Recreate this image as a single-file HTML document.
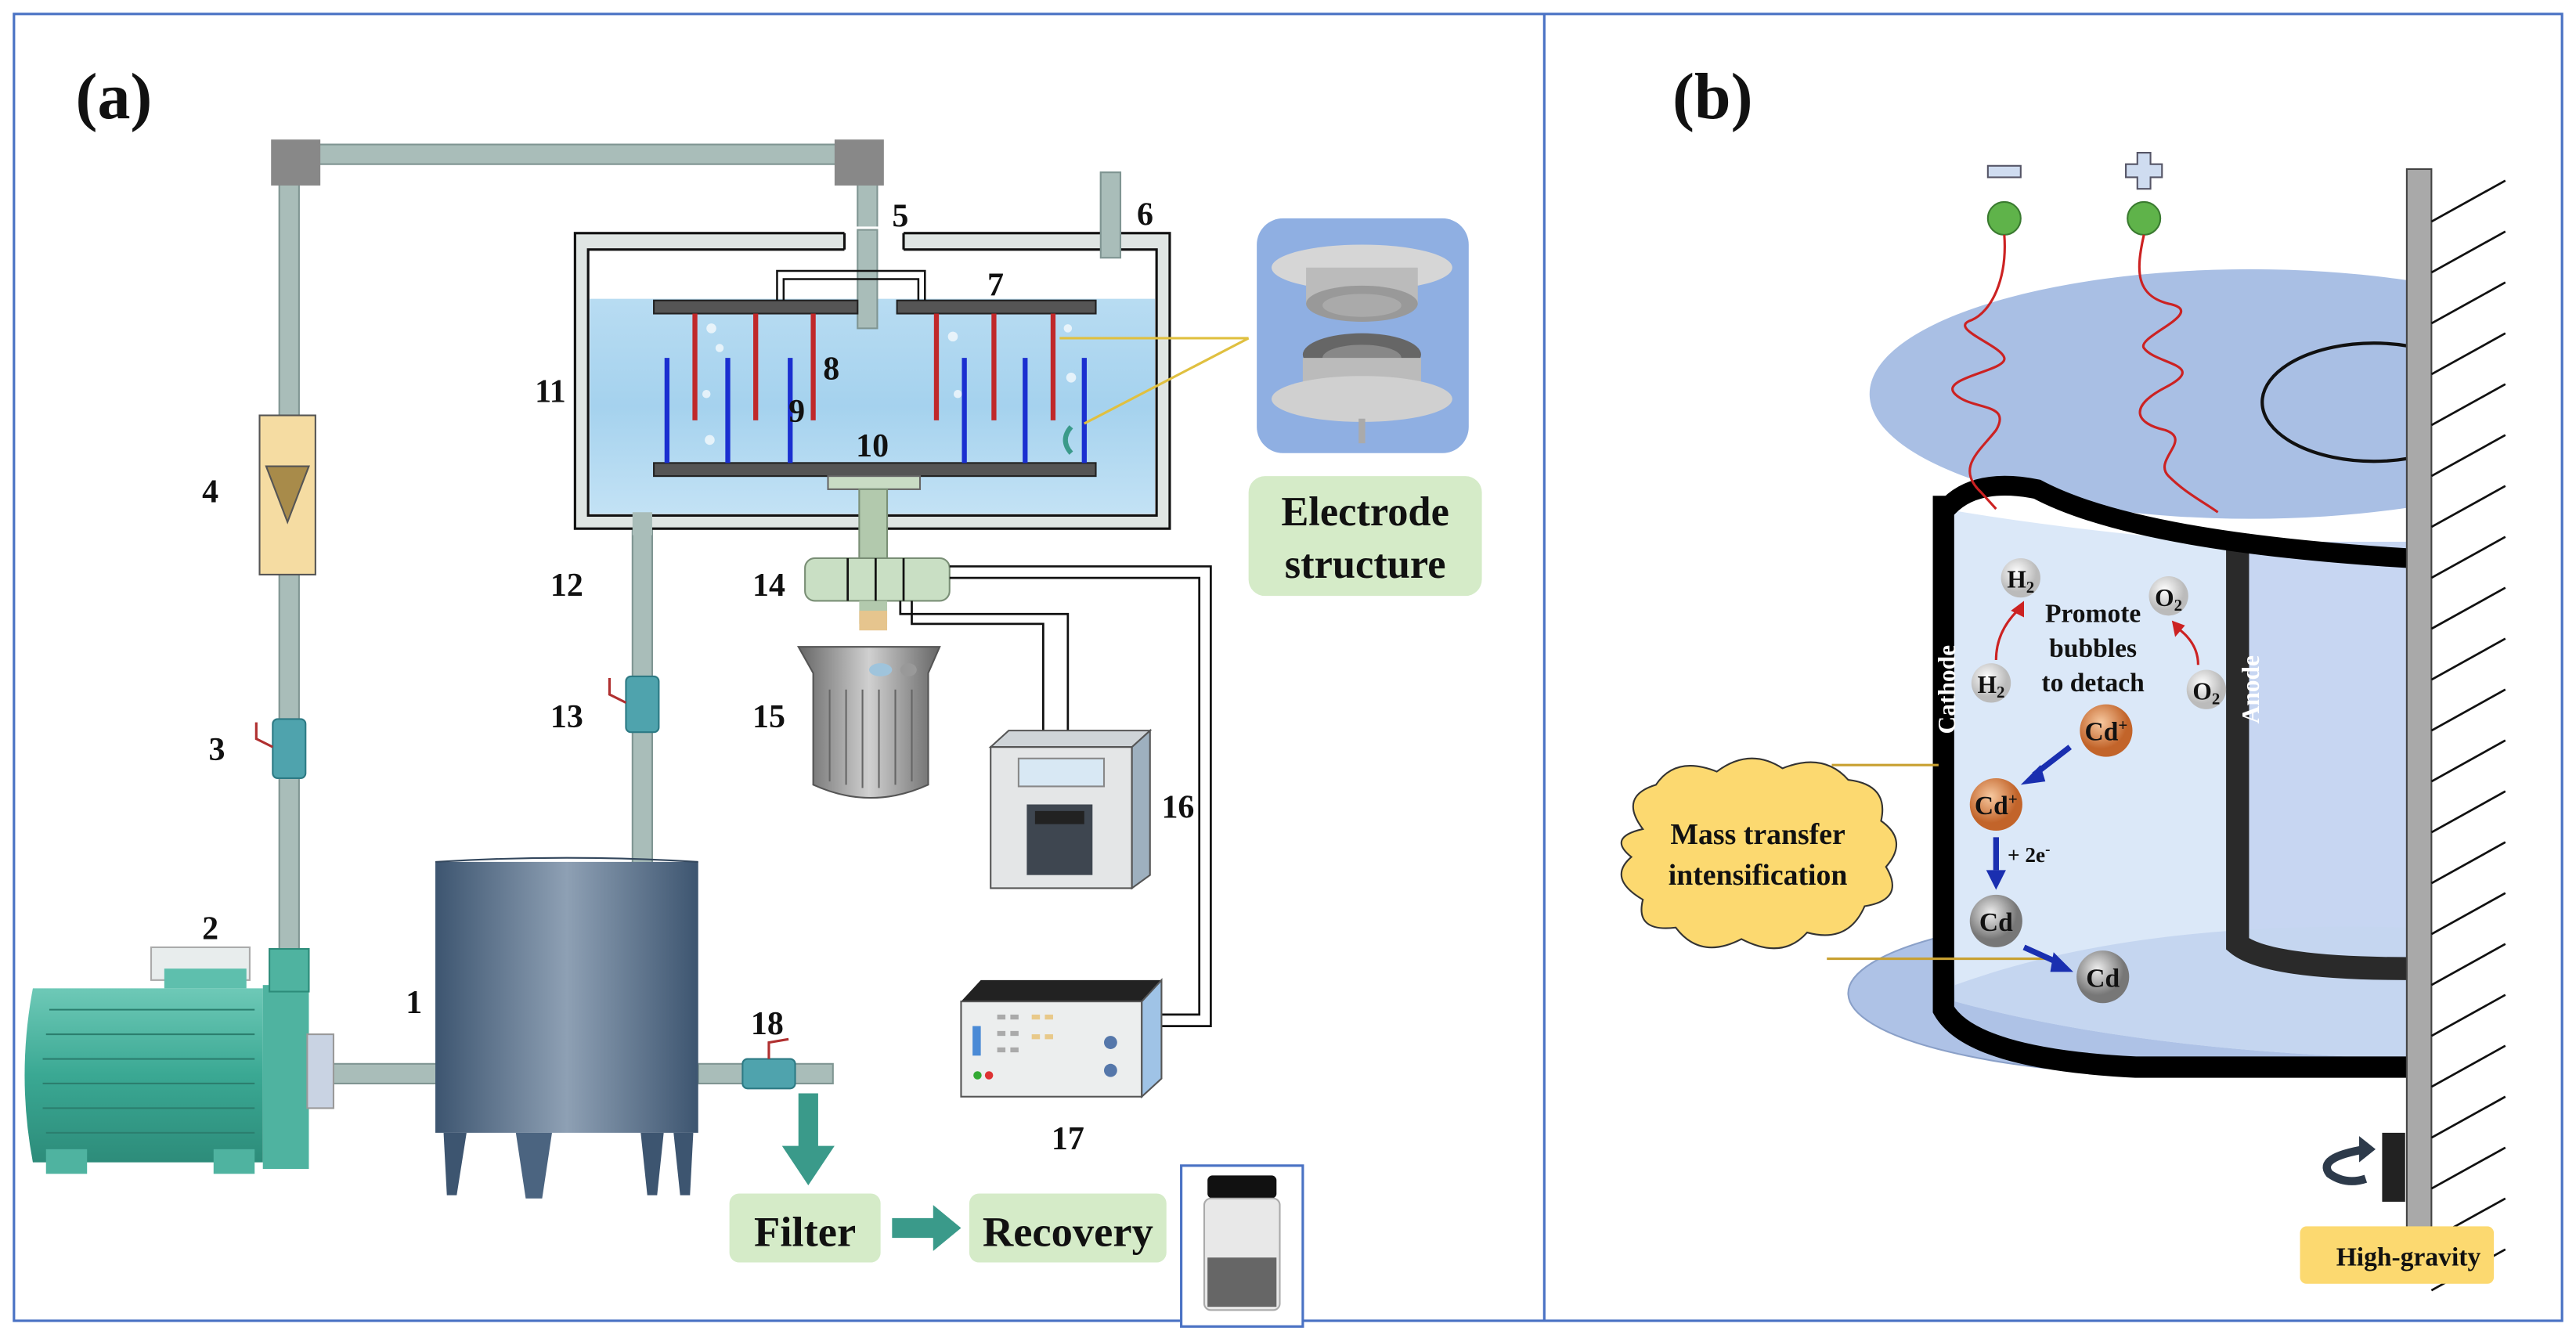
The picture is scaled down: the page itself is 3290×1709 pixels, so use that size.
<!DOCTYPE html>
<html><head><meta charset="utf-8"><style>
html,body{margin:0;padding:0;background:#fff;}
svg{display:block;}
text{font-family:"Liberation Serif",serif;font-weight:bold;fill:#111;}
</style></head><body>
<svg width="3290" height="1709" viewBox="0 0 1568 815" preserveAspectRatio="none" xmlns="http://www.w3.org/2000/svg">
<defs>
<linearGradient id="tank" x1="0" x2="1"><stop offset="0" stop-color="#3d5570"/><stop offset="0.5" stop-color="#8ea0b4"/><stop offset="1" stop-color="#3d5570"/></linearGradient>
<linearGradient id="water" x1="0" y1="0" x2="0" y2="1"><stop offset="0" stop-color="#b8dcf2"/><stop offset="0.5" stop-color="#a5d2ee"/><stop offset="1" stop-color="#c3e2f5"/></linearGradient>
<linearGradient id="pump" x1="0" y1="0" x2="0" y2="1"><stop offset="0" stop-color="#6ec9b7"/><stop offset="0.5" stop-color="#3aa893"/><stop offset="1" stop-color="#2d8c7a"/></linearGradient>
<linearGradient id="motor" x1="0" x2="1"><stop offset="0" stop-color="#666"/><stop offset="0.5" stop-color="#d0d0d0"/><stop offset="1" stop-color="#666"/></linearGradient>
<radialGradient id="org" cx="0.4" cy="0.35"><stop offset="0" stop-color="#f7c9a0"/><stop offset="1" stop-color="#c2642a"/></radialGradient>
<radialGradient id="gry" cx="0.4" cy="0.35"><stop offset="0" stop-color="#eee"/><stop offset="1" stop-color="#777"/></radialGradient>
<radialGradient id="wht" cx="0.4" cy="0.35"><stop offset="0" stop-color="#fff"/><stop offset="1" stop-color="#bbb"/></radialGradient>
<clipPath id="wallclip"><rect x="0" y="0" width="1466" height="815"/></clipPath>
</defs>
<rect x="0" y="0" width="1568" height="815" fill="#fff"/>
<rect x="8.5" y="8.5" width="1551" height="796" fill="none" stroke="#4a72c4" stroke-width="1.5"/>
<line x1="940" y1="8" x2="940" y2="805" stroke="#4a72c4" stroke-width="1.5"/>

<!-- ========== (a) ========== -->
<text x="46" y="72" font-size="40">(a)</text>
<!-- pipes -->
<g fill="#a9bdb9" stroke="#7f9592" stroke-width="1">
<rect x="180" y="88" width="335" height="12"/>
<rect x="170" y="100" width="12" height="490"/>
<rect x="522" y="100" width="12" height="100"/>
<rect x="385" y="318" width="12" height="210"/>
<rect x="200" y="648" width="70" height="12"/>
<rect x="425" y="648" width="82" height="12"/>
<rect x="670" y="105" width="12" height="52"/>
</g>
<rect x="165" y="85" width="30" height="28" fill="#888" />
<rect x="508" y="85" width="30" height="28" fill="#888"/>
<!-- flowmeter -->
<rect x="158" y="253" width="34" height="97" fill="#f5dca2" stroke="#555"/>
<polygon points="162,284 188,284 175,318" fill="#a88b4a" stroke="#555"/>
<!-- valves -->
<g fill="#4fa3ad" stroke="#2d7a84">
<rect x="166" y="438" width="20" height="36" rx="3"/>
<rect x="381" y="412" width="20" height="34" rx="3"/>
<rect x="452" y="645" width="32" height="18" rx="3"/>
</g>
<g stroke="#b03030" stroke-width="1.5" fill="none"><path d="M166 455 L156 450 L156 440"/><path d="M381 428 L371 423 L371 413"/><path d="M468 645 L468 635 L480 633"/></g>
<!-- tank 11 -->
<rect x="350" y="142" width="362" height="180" fill="#dfe5e3" stroke="#111" stroke-width="1.5"/>
<rect x="358" y="152" width="346" height="162" fill="#fff" stroke="#111" stroke-width="1.5"/>
<rect x="359" y="182" width="344" height="131" fill="url(#water)"/>
<rect x="514" y="138" width="36" height="16" fill="#fff"/>
<line x1="514" y1="142" x2="514" y2="152" stroke="#111" stroke-width="1.5"/>
<line x1="550" y1="142" x2="550" y2="152" stroke="#111" stroke-width="1.5"/>
<rect x="522" y="140" width="12" height="60" fill="#a9bdb9" stroke="#7f9592"/>
<rect x="670" y="105" width="12" height="52" fill="#a9bdb9" stroke="#7f9592"/>
<rect x="385" y="312" width="12" height="14" fill="#a9bdb9"/>
<!-- plates -->
<rect x="398" y="183" width="124" height="8" fill="#555" stroke="#222"/>
<rect x="546" y="183" width="121" height="8" fill="#555" stroke="#222"/>
<rect x="398" y="282" width="269" height="8" fill="#555" stroke="#222"/>
<path d="M473 183 V165 H563 V183 M477 183 V170 H559 V183" fill="none" stroke="#111" stroke-width="1.2"/>
<g stroke="#c0282a" stroke-width="3">
<line x1="423" y1="191" x2="423" y2="256"/><line x1="460" y1="191" x2="460" y2="256"/><line x1="495" y1="191" x2="495" y2="256"/>
<line x1="570" y1="191" x2="570" y2="256"/><line x1="605" y1="191" x2="605" y2="256"/><line x1="641" y1="191" x2="641" y2="256"/>
</g>
<g stroke="#1a2fd0" stroke-width="3">
<line x1="406" y1="218" x2="406" y2="282"/><line x1="443" y1="218" x2="443" y2="282"/><line x1="481" y1="218" x2="481" y2="282"/>
<line x1="587" y1="218" x2="587" y2="282"/><line x1="624" y1="218" x2="624" y2="282"/><line x1="660" y1="218" x2="660" y2="282"/>
</g>
<g fill="#fff" opacity="0.7"><circle cx="433" cy="200" r="3"/><circle cx="438" cy="212" r="2.5"/><circle cx="430" cy="240" r="2.5"/><circle cx="432" cy="268" r="3"/><circle cx="580" cy="205" r="3"/><circle cx="583" cy="240" r="2.5"/><circle cx="650" cy="200" r="2.5"/><circle cx="652" cy="230" r="3"/></g>
<path d="M652 276 Q645 268 652 260" stroke="#3a9a8a" stroke-width="3" fill="none"/>
<line x1="645" y1="206" x2="760" y2="206" stroke="#e0c040" stroke-width="1.5"/>
<line x1="660" y1="258" x2="760" y2="206" stroke="#e0c040" stroke-width="1.5"/>
<!-- shaft & coupling -->
<rect x="504" y="290" width="56" height="8" fill="#c9dcc4" stroke="#666"/>
<rect x="523" y="298" width="17" height="44" fill="#b2c9ad" stroke="#7a8f76"/>
<rect x="490" y="340" width="88" height="26" rx="6" fill="#c9dfc4" stroke="#7a8f76"/>
<g stroke="#111" stroke-width="1.3"><line x1="516" y1="340" x2="516" y2="366"/><line x1="533" y1="340" x2="533" y2="366"/><line x1="550" y1="340" x2="550" y2="366"/></g>
<rect x="523" y="366" width="17" height="14" fill="#b2c9ad"/>
<rect x="523" y="372" width="17" height="12" fill="#e6c58e"/>
<!-- motor 15 -->
<path d="M486 394 L572 394 L565 410 L565 478 Q530 494 495 478 L495 410 Z" fill="url(#motor)" stroke="#555"/>
<g stroke="#666" stroke-width="1"><line x1="505" y1="420" x2="505" y2="476"/><line x1="515" y1="420" x2="515" y2="478"/><line x1="525" y1="420" x2="525" y2="480"/><line x1="535" y1="420" x2="535" y2="480"/><line x1="545" y1="420" x2="545" y2="478"/><line x1="555" y1="420" x2="555" y2="476"/></g>
<ellipse cx="536" cy="408" rx="7" ry="4" fill="#9fc4dc"/><ellipse cx="553" cy="408" rx="5" ry="4" fill="#999"/>
<!-- wires -->
<g fill="none" stroke="#111" stroke-width="1.3">
<path d="M578 345 H737 V625 H707"/><path d="M578 352 H730 V618 H707"/>
<path d="M548 366 V374 H650 V455"/><path d="M555 366 V380 H635 V455"/>
</g>
<!-- controller 16 -->
<rect x="603" y="455" width="86" height="86" fill="#e4e6e7" stroke="#555"/>
<polygon points="689,455 700,445 700,533 689,541" fill="#9eb0bf" stroke="#555"/>
<polygon points="603,455 614,445 700,445 689,455" fill="#cfd4d8" stroke="#555"/>
<rect x="620" y="462" width="52" height="17" fill="#d8e8f4" stroke="#888"/>
<rect x="625" y="490" width="40" height="43" fill="#3e4650"/>
<rect x="630" y="494" width="30" height="8" fill="#222"/>
<!-- power supply 17 -->
<polygon points="585,610 597,597 707,597 695,610" fill="#222"/>
<rect x="585" y="610" width="110" height="58" fill="#eceeee" stroke="#555"/>
<polygon points="695,610 707,597 707,657 695,668" fill="#9fc3e6" stroke="#555"/>
<rect x="592" y="625" width="5" height="18" fill="#4a8ad6"/>
<circle cx="595" cy="655" r="2.5" fill="#3a3"/><circle cx="602" cy="655" r="2.5" fill="#d33"/>
<g fill="#aaa"><rect x="607" y="618" width="5" height="3"/><rect x="615" y="618" width="5" height="3"/><rect x="607" y="628" width="5" height="3"/><rect x="615" y="628" width="5" height="3"/><rect x="607" y="638" width="5" height="3"/><rect x="615" y="638" width="5" height="3"/><rect x="628" y="618" width="5" height="3" fill="#e8c98a"/><rect x="636" y="618" width="5" height="3" fill="#e8c98a"/><rect x="628" y="630" width="5" height="3" fill="#e8c98a"/><rect x="636" y="630" width="5" height="3" fill="#e8c98a"/></g>
<circle cx="676" cy="635" r="4" fill="#5577aa"/><circle cx="676" cy="652" r="4" fill="#5577aa"/>
<!-- tank 1 -->
<rect x="265" y="525" width="160" height="165" fill="url(#tank)"/>
<path d="M265 525 Q345 520 425 525" stroke="#33475d" fill="none"/>
<polygon points="270,690 284,690 278,728 272,728" fill="#3d5570"/>
<polygon points="314,690 336,690 330,730 320,730" fill="#4b6480"/>
<polygon points="390,690 404,690 400,728 394,728" fill="#3d5570"/>
<polygon points="410,690 422,690 420,728 414,728" fill="#3d5570"/>
<!-- pump 2 -->
<rect x="92" y="577" width="60" height="20" fill="#e8eded" stroke="#aaa"/>
<rect x="100" y="590" width="50" height="12" fill="#5ebfad"/>
<path d="M20 602 H160 V708 H20 Q10 655 20 602 Z" fill="url(#pump)"/>
<g stroke="#2b7e6e" stroke-width="1"><line x1="30" y1="615" x2="155" y2="615"/><line x1="28" y1="630" x2="155" y2="630"/><line x1="26" y1="645" x2="155" y2="645"/><line x1="26" y1="660" x2="155" y2="660"/><line x1="26" y1="675" x2="155" y2="675"/><line x1="28" y1="690" x2="155" y2="690"/></g>
<rect x="160" y="600" width="28" height="112" fill="#4fb3a0"/>
<rect x="187" y="630" width="16" height="45" fill="#c9d3e3" stroke="#999"/>
<rect x="164" y="578" width="24" height="26" fill="#4fb3a0" stroke="#2d8c7a"/>
<rect x="28" y="700" width="25" height="15" fill="#4fb3a0"/><rect x="130" y="700" width="25" height="15" fill="#4fb3a0"/>
<!-- flow to filter -->
<polygon points="486,666 498,666 498,698 508,698 492,722 476,698 486,698" fill="#3a9a8a"/>
<rect x="444" y="727" width="92" height="42" rx="6" fill="#d5ebc8"/>
<text x="490" y="759" font-size="26" text-anchor="middle">Filter</text>
<polygon points="543,742 568,742 568,734 585,748 568,762 568,754 543,754" fill="#3a9a8a"/>
<rect x="590" y="727" width="120" height="42" rx="6" fill="#d5ebc8"/>
<text x="650" y="759" font-size="26" text-anchor="middle">Recovery</text>
<rect x="719" y="710" width="74" height="98" fill="#fff" stroke="#4a72c4" stroke-width="1.5"/>
<rect x="735" y="716" width="42" height="14" rx="3" fill="#111"/>
<rect x="733" y="730" width="46" height="68" rx="4" fill="#e8e8e8" stroke="#aaa"/>
<rect x="735" y="766" width="42" height="30" fill="#666"/>
<!-- electrode structure -->
<rect x="765" y="133" width="129" height="143" rx="16" fill="#8fafe2"/>
<ellipse cx="829" cy="163" rx="55" ry="14" fill="#d6d6d6"/>
<rect x="795" y="163" width="68" height="22" fill="#bbb"/>
<ellipse cx="829" cy="185" rx="34" ry="11" fill="#999"/>
<ellipse cx="829" cy="186" rx="24" ry="7" fill="#aaa"/>
<ellipse cx="829" cy="216" rx="36" ry="13" fill="#666"/>
<ellipse cx="829" cy="218" rx="24" ry="8" fill="#888"/>
<rect x="793" y="218" width="72" height="22" fill="#bbb"/>
<ellipse cx="829" cy="243" rx="55" ry="14" fill="#d0d0d0"/>
<rect x="827" y="255" width="4" height="15" fill="#aaa"/>
<rect x="760" y="290" width="142" height="73" rx="10" fill="#d5ebc8"/>
<text x="831" y="320" font-size="25" text-anchor="middle">Electrode</text>
<text x="831" y="352" font-size="25" text-anchor="middle">structure</text>
<!-- labels -->
<g font-size="20" text-anchor="middle">
<text x="252" y="617">1</text><text x="128" y="572">2</text><text x="132" y="463">3</text><text x="128" y="306">4</text>
<text x="548" y="138">5</text><text x="697" y="137">6</text><text x="606" y="180">7</text><text x="506" y="231">8</text>
<text x="485" y="257">9</text><text x="531" y="278">10</text><text x="335" y="245">11</text><text x="345" y="363">12</text>
<text x="345" y="443">13</text><text x="468" y="363">14</text><text x="468" y="443">15</text><text x="717" y="498">16</text>
<text x="650" y="700">17</text><text x="467" y="630">18</text>
</g>

<!-- ========== (b) ========== -->
<text x="1018" y="72" font-size="40">(b)</text>
<!-- top disk -->
<g clip-path="url(#wallclip)">
<ellipse cx="1370" cy="240" rx="232" ry="76" fill="#a9bfe4"/>
<ellipse cx="1445" cy="245" rx="68" ry="36" fill="none" stroke="#111" stroke-width="2"/>
<!-- bottom disk -->
<ellipse cx="1330" cy="605" rx="205" ry="50" fill="#aec2e6" stroke="#8aa0c8"/>
<!-- cylinder inner -->
<path d="M1183 310 Q1300 330 1466 338 L1466 645 Q1300 640 1190 610 Z" fill="#dbe8f8"/>
<rect x="1369" y="330" width="97" height="260" fill="#c7d6f2"/>
<path d="M1190 600 Q1300 560 1466 565 L1466 645 Q1300 640 1190 610 Z" fill="#c5d6f0"/>
<!-- anode -->
<path d="M1362 325 V575 Q1380 590 1466 590" fill="none" stroke="#2a2a2a" stroke-width="14"/>
<!-- rim -->
<path d="M1183 312 Q1200 290 1240 298 Q1300 330 1466 340" fill="none" stroke="#000" stroke-width="12"/>
<path d="M1183 302 V615 Q1200 645 1300 650 L1466 650" fill="none" stroke="#000" stroke-width="13"/>
</g>
<!-- wall -->
<rect x="1465" y="103" width="15" height="657" fill="#a9a9a9" stroke="#444"/>
<g stroke="#111" stroke-width="1.3">
<line x1="1480" y1="135" x2="1525" y2="110"/><line x1="1480" y1="166" x2="1525" y2="141"/><line x1="1480" y1="197" x2="1525" y2="172"/><line x1="1480" y1="228" x2="1525" y2="203"/><line x1="1480" y1="259" x2="1525" y2="234"/><line x1="1480" y1="290" x2="1525" y2="265"/><line x1="1480" y1="321" x2="1525" y2="296"/><line x1="1480" y1="352" x2="1525" y2="327"/><line x1="1480" y1="383" x2="1525" y2="358"/><line x1="1480" y1="414" x2="1525" y2="389"/><line x1="1480" y1="445" x2="1525" y2="420"/><line x1="1480" y1="476" x2="1525" y2="451"/><line x1="1480" y1="507" x2="1525" y2="482"/><line x1="1480" y1="538" x2="1525" y2="513"/><line x1="1480" y1="569" x2="1525" y2="544"/><line x1="1480" y1="600" x2="1525" y2="575"/><line x1="1480" y1="631" x2="1525" y2="606"/><line x1="1480" y1="662" x2="1525" y2="637"/><line x1="1480" y1="693" x2="1525" y2="668"/><line x1="1480" y1="724" x2="1525" y2="699"/><line x1="1480" y1="755" x2="1525" y2="730"/><line x1="1480" y1="786" x2="1525" y2="761"/>
</g>
<rect x="1450" y="690" width="14" height="42" fill="#222"/>
<path d="M1440 700 Q1410 705 1418 715 Q1428 722 1440 718" fill="none" stroke="#2d3a4a" stroke-width="5"/>
<polygon points="1436,692 1446,700 1436,708" fill="#2d3a4a"/>
<rect x="1400" y="747" width="118" height="35" rx="4" fill="#fcd970"/>
<text x="1466" y="771" font-size="16" text-anchor="middle">High-gravity</text>
<!-- terminals -->
<rect x="1210" y="101" width="20" height="7" fill="#cfdcf0" stroke="#556"/>
<path d="M1301 93 h8 v7 h7 v8 h-7 v7 h-8 v-7 h-7 v-8 h7 z" fill="#cfdcf0" stroke="#556"/>
<circle cx="1220" cy="133" r="10" fill="#5fb34a" stroke="#3a7a30"/>
<circle cx="1305" cy="133" r="10" fill="#5fb34a" stroke="#3a7a30"/>
<path d="M1220 143 C1222 170 1212 190 1200 195 C1185 200 1218 210 1220 218 C1222 226 1180 230 1190 240 C1200 250 1225 245 1215 262 C1205 275 1190 285 1206 300 L1215 310" fill="none" stroke="#c22" stroke-width="1.5"/>
<path d="M1305 143 C1300 165 1300 180 1320 185 C1345 190 1300 205 1305 212 C1312 222 1345 222 1318 236 C1295 248 1300 258 1318 262 C1335 268 1310 280 1320 290 C1330 300 1340 305 1350 312" fill="none" stroke="#c22" stroke-width="1.5"/>
<!-- cloud -->
<g fill="#fcd970" stroke="#333" stroke-width="1">
<path d="M1000 505 Q985 485 1008 478 Q1020 460 1045 470 Q1065 455 1085 468 Q1110 458 1125 475 Q1150 478 1145 500 Q1162 512 1148 528 Q1160 548 1135 552 Q1125 575 1100 568 Q1085 585 1060 572 Q1035 585 1020 565 Q995 568 1000 548 Q978 535 993 522 Q978 510 1000 505 Z"/>
</g>
<text x="1070" y="514" font-size="18" text-anchor="middle">Mass transfer</text>
<text x="1070" y="539" font-size="18" text-anchor="middle">intensification</text>
<line x1="1115" y1="466" x2="1180" y2="466" stroke="#c8a030" stroke-width="1.5"/>
<line x1="1112" y1="584" x2="1250" y2="584" stroke="#c8a030" stroke-width="1.5"/>
<!-- labels on cylinder -->
<text transform="translate(1190,420) rotate(-90)" font-size="15" text-anchor="middle" style="fill:#fff">Cathode</text>
<text transform="translate(1375,420) rotate(-90)" font-size="15" text-anchor="middle" style="fill:#fff">Anode</text>
<!-- molecules -->
<circle cx="1230" cy="352" r="12" fill="url(#wht)"/><text x="1230" y="358" font-size="15" text-anchor="middle">H<tspan font-size="10" dy="3">2</tspan></text>
<circle cx="1212" cy="416" r="12" fill="url(#wht)"/><text x="1212" y="422" font-size="15" text-anchor="middle">H<tspan font-size="10" dy="3">2</tspan></text>
<circle cx="1320" cy="363" r="12" fill="url(#wht)"/><text x="1320" y="369" font-size="15" text-anchor="middle">O<tspan font-size="10" dy="3">2</tspan></text>
<circle cx="1343" cy="420" r="12" fill="url(#wht)"/><text x="1343" y="426" font-size="15" text-anchor="middle">O<tspan font-size="10" dy="3">2</tspan></text>
<path d="M1215 402 Q1215 385 1228 372" fill="none" stroke="#c22" stroke-width="1.5"/><polygon points="1224,372 1232,366 1232,376" fill="#c22"/>
<path d="M1338 405 Q1338 392 1326 383" fill="none" stroke="#c22" stroke-width="1.5"/><polygon points="1322,378 1330,381 1324,388" fill="#c22"/>
<text x="1274" y="379" font-size="16" text-anchor="middle">Promote</text>
<text x="1274" y="400" font-size="16" text-anchor="middle">bubbles</text>
<text x="1274" y="421" font-size="16" text-anchor="middle">to detach</text>
<circle cx="1282" cy="445" r="16" fill="url(#org)"/><text x="1282" y="451" font-size="16" text-anchor="middle">Cd<tspan font-size="10" dy="-6">+</tspan></text>
<circle cx="1215" cy="490" r="16" fill="url(#org)"/><text x="1215" y="496" font-size="16" text-anchor="middle">Cd<tspan font-size="10" dy="-6">+</tspan></text>
<circle cx="1215" cy="561" r="16" fill="url(#gry)"/><text x="1215" y="567" font-size="16" text-anchor="middle">Cd</text>
<circle cx="1280" cy="595" r="16" fill="url(#gry)"/><text x="1280" y="601" font-size="16" text-anchor="middle">Cd</text>
<g stroke="#1a2fb0" stroke-width="3.5"><line x1="1260" y1="455" x2="1238" y2="472"/><line x1="1215" y1="510" x2="1215" y2="530"/><line x1="1232" y1="577" x2="1252" y2="586"/></g>
<polygon points="1230,478 1242,466 1245,476" fill="#1a2fb0"/>
<polygon points="1209,530 1221,530 1215,542" fill="#1a2fb0"/>
<polygon points="1262,592 1250,580 1248,592" fill="#1a2fb0"/>
<text x="1222" y="525" font-size="13">+ 2e<tspan font-size="9" dy="-5">-</tspan></text>
</svg>
</body></html>
